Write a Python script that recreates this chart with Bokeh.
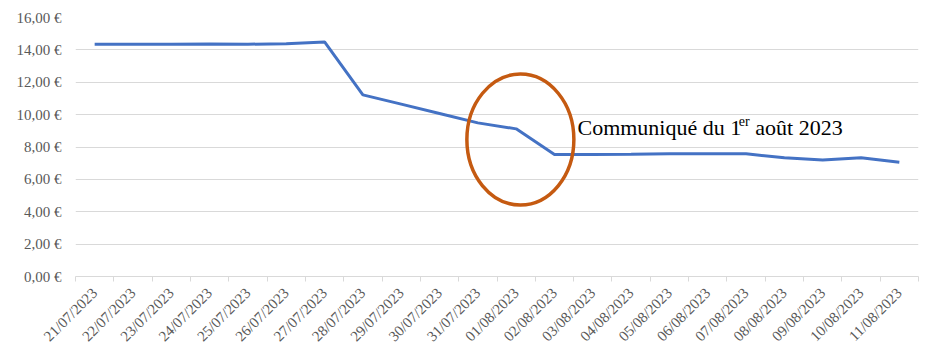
import math
from bokeh.plotting import figure
from bokeh.models import Range1d, FixedTicker, Label
from bokeh.embed import file_html
from bokeh.resources import INLINE

# ---- data ----
dates = [
    "21/07/2023", "22/07/2023", "23/07/2023", "24/07/2023", "25/07/2023",
    "26/07/2023", "27/07/2023", "28/07/2023", "29/07/2023", "30/07/2023",
    "31/07/2023", "01/08/2023", "02/08/2023", "03/08/2023", "04/08/2023",
    "05/08/2023", "06/08/2023", "07/08/2023", "08/08/2023", "09/08/2023",
    "10/08/2023", "11/08/2023",
]
prices = [
    14.35, 14.35, 14.35, 14.37, 14.35,
    14.38, 14.49, 11.22, 10.65, 10.07,
    9.49, 9.12, 7.54, 7.54, 7.55,
    7.58, 7.58, 7.58, 7.33, 7.19,
    7.33, 7.06,
]
y_ticks = [0, 2, 4, 6, 8, 10, 12, 14, 16]
y_tick_labels = ["0,00 €", "2,00 €", "4,00 €", "6,00 €", "8,00 €",
                 "10,00 €", "12,00 €", "14,00 €", "16,00 €"]
note_main = "Communiqué du 1"
note_sup = "er"
note_rest = "août 2023"
highlight_date = "01/08/2023"

# ---- figure ----
n = len(dates)
x_pos = [i + 0.5 for i in range(n)]

p = figure(width=936, height=364, output_backend="svg", toolbar_location=None,
           x_range=Range1d(0, n), y_range=Range1d(0, 16),
           min_border_left=75, min_border_right=18,
           min_border_top=17, min_border_bottom=88)
p.outline_line_color = None
p.background_fill_color = "white"
p.border_fill_color = "white"

axis_font = "Liberation Serif"
label_color = "#595959"
grid_color = "#D9D9D9"

# x axis: labels at category centres, tick marks at boundaries
xa = p.xaxis[0]
xa.ticker = FixedTicker(ticks=x_pos, minor_ticks=list(range(n + 1)))
xa.major_label_overrides = {x: d for x, d in zip(x_pos, dates)}
xa.major_tick_line_color = None
xa.major_tick_out = 0
xa.major_tick_in = 0
xa.minor_tick_line_color = grid_color
xa.minor_tick_out = 5
xa.minor_tick_in = 0
xa.axis_line_color = grid_color
xa.major_label_orientation = math.pi / 4
xa.major_label_standoff = 9
xa.major_label_text_font = axis_font
xa.major_label_text_font_size = "15px"
xa.major_label_text_color = label_color

ya = p.yaxis[0]
ya.ticker = FixedTicker(ticks=y_ticks)
ya.major_label_overrides = {t: s for t, s in zip(y_ticks, y_tick_labels)}
ya.axis_line_color = None
ya.major_tick_line_color = None
ya.minor_tick_line_color = None
ya.major_tick_out = 0
ya.major_label_standoff = 14
ya.major_label_text_font = axis_font
ya.major_label_text_font_size = "15px"
ya.major_label_text_color = label_color

p.xgrid.grid_line_color = None
p.ygrid.grid_line_color = grid_color
p.ygrid.grid_line_width = 1

p.line(x_pos, prices, line_color="#4472C4", line_width=3)

# highlight ellipse around the announcement date
hx = dates.index(highlight_date) + 0.5 + 0.11
p.ellipse(x=[hx], y=[8.46], width=107, height=131,
          width_units="screen", height_units="screen",
          fill_color=None, line_color="#C55A11", line_width=3.5)

# annotation text with superscript
p.add_layout(Label(x=13.10, y=9.20, text=note_main, text_font="Liberation Serif",
                   text_font_size="22px", text_baseline="alphabetic", text_color="black"))
p.add_layout(Label(x=17.31, y=9.55, text=note_sup, text_font="Liberation Serif",
                   text_font_size="14px", text_baseline="alphabetic", text_color="black"))
p.add_layout(Label(x=17.74, y=9.20, text=note_rest, text_font="Liberation Serif",
                   text_font_size="22px", text_baseline="alphabetic", text_color="black"))

open("out.html", "w").write(file_html(p, INLINE))
